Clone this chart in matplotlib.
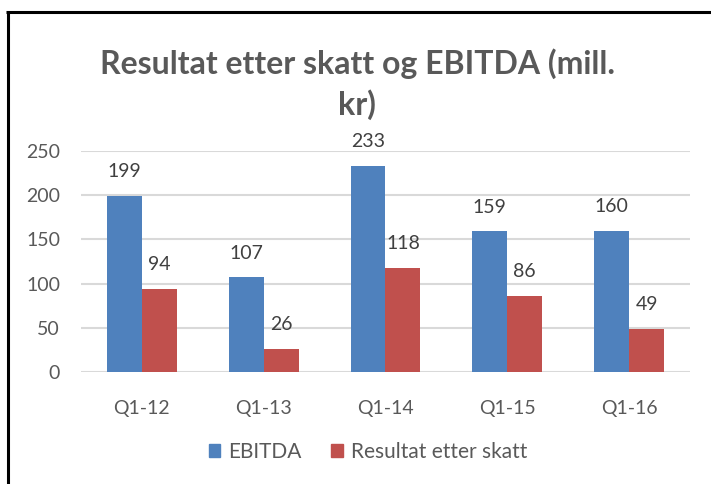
import matplotlib
matplotlib.use("Agg")
import matplotlib.pyplot as plt
from matplotlib.lines import Line2D
from matplotlib.patches import Patch
import numpy as np

plt.rcParams['font.family'] = ['Lato', 'DejaVu Sans']

categories = ["Q1-12", "Q1-13", "Q1-14", "Q1-15", "Q1-16"]
ebitda = [199, 107, 233, 159, 160]
resultat = [94, 26, 118, 86, 49]
series_names = ["EBITDA", "Resultat etter skatt"]
yticks = [0, 50, 100, 150, 200, 250]
title = "Resultat etter skatt og EBITDA (mill.\nkr)"

blue = "#4F81BD"
red = "#C0504D"
txt = "#595959"

fig = plt.figure(figsize=(7.11, 4.84), dpi=100)
ax = fig.add_axes([81/711, 1-372/484, (690-81)/711, (372-151)/484])

x = np.arange(len(categories))
w = 0.287
b1 = ax.bar(x - w/2, ebitda, w, color=blue, zorder=3)
b2 = ax.bar(x + w/2, resultat, w, color=red, zorder=3)

for bars, vals in ((b1, ebitda), (b2, resultat)):
    for r, v in zip(bars, vals):
        ax.annotate(str(v), (r.get_x() + r.get_width()/2, v), xytext=(0, 17.5),
                    textcoords="offset points", ha="center", va="center",
                    fontsize=14, color="#404040")

ax.set_xlim(-0.5, len(categories) - 0.5)
ax.set_ylim(0, 250)
ax.set_yticks(yticks)
ax.set_xticks(x)
ax.set_xticklabels(categories)
ax.grid(axis="y", color="#D9D9D9", linewidth=1.5, zorder=0)
for s in ax.spines.values():
    s.set_visible(False)
ax.tick_params(axis="both", length=0, labelsize=14, colors=txt)
ax.tick_params(axis="x", pad=20)
ax.tick_params(axis="y", pad=15)

fig.text(357/711, 1-84/484, title, ha="center", va="center", fontsize=23,
         fontweight="bold", color=txt, linespacing=1.38)

handles = [Patch(color=blue), Patch(color=red)]
fig.legend(handles, series_names, loc="center", bbox_to_anchor=(368/711, 1-452/484),
           ncol=2, frameon=False, fontsize=15, labelcolor=txt,
           handlelength=0.55, handleheight=0.55, handletextpad=0.4, columnspacing=1.4)

fig.add_artist(Line2D([7.5/711, 7.5/711], [0, 1-11/484], color="black", linewidth=2.2,
                      transform=fig.transFigure, solid_capstyle="butt"))
fig.add_artist(Line2D([6/711, 1], [1-12/484, 1-12/484], color="black", linewidth=2.2,
                      transform=fig.transFigure, solid_capstyle="butt"))

fig.savefig("out.png", dpi=100)
